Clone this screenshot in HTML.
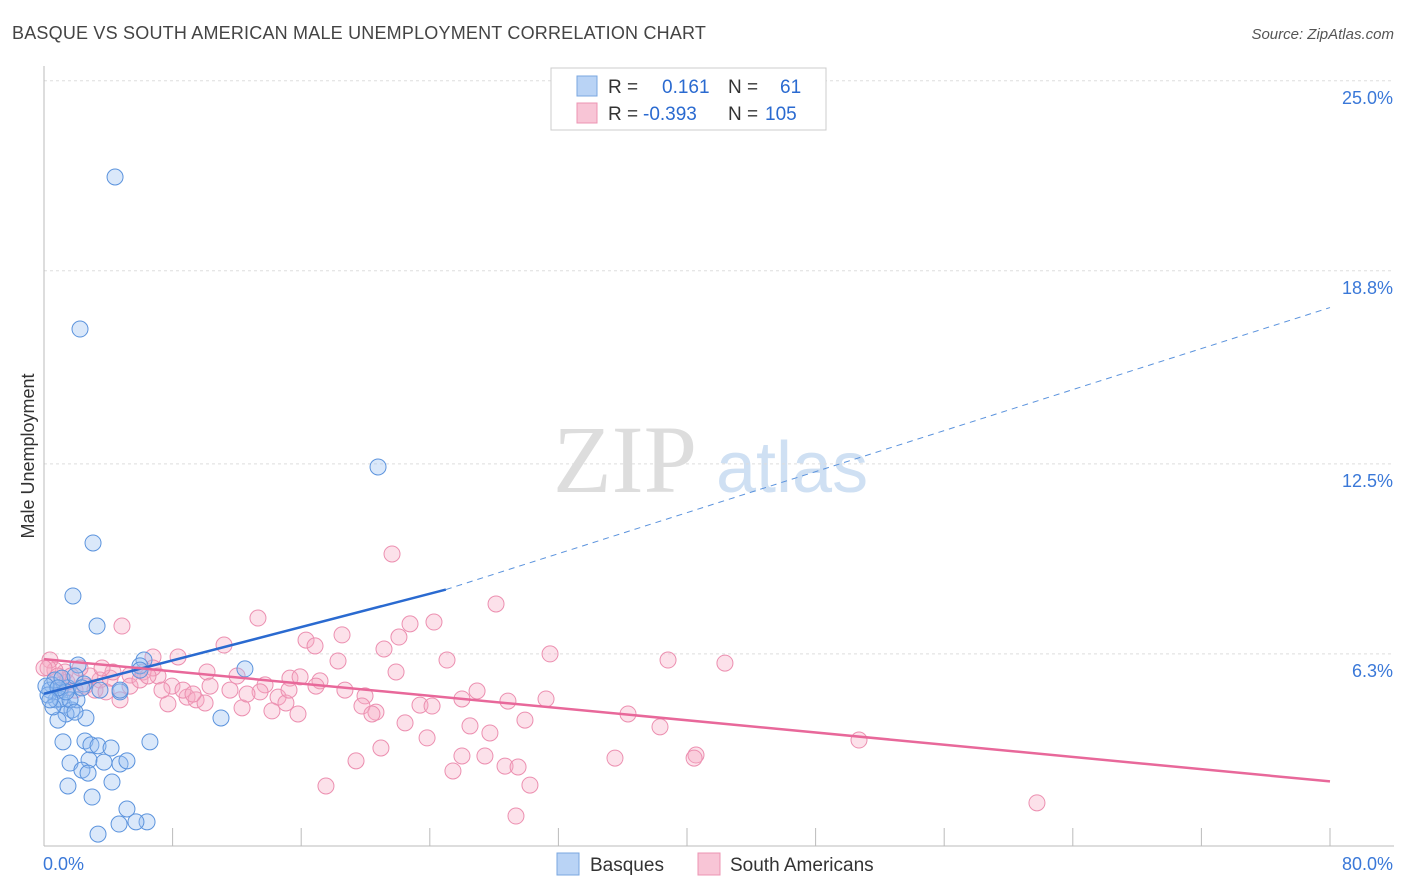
<!DOCTYPE html>
<html><head><meta charset="utf-8"><style>
body{margin:0;background:#fff;font-family:"Liberation Sans",sans-serif;}
#wrap{position:relative;width:1406px;height:892px;overflow:hidden;}
</style></head><body>
<div id="wrap">
<svg id="chart" width="1406" height="892">
<text x="12" y="39" font-size="18" fill="#444" letter-spacing="0.2">BASQUE VS SOUTH AMERICAN MALE UNEMPLOYMENT CORRELATION CHART</text>
<text x="1394" y="39" font-size="15" fill="#555" text-anchor="end" font-style="italic">Source: ZipAtlas.com</text>
<text x="34" y="456" font-size="18" fill="#333" text-anchor="middle" transform="rotate(-90 34 456)">Male Unemployment</text>
<text x="553" y="492" font-size="96" fill="#ddd" font-family="Liberation Serif,serif">ZIP</text>
<text x="716" y="492" font-size="72" fill="#cfe0f3">atlas</text>
<g id="grid"></g><g id="pts"></g><g id="lines"></g>
<g>
<rect x="551" y="68" width="275" height="62" fill="#fff" stroke="#ccc"/>
<rect x="577" y="76" width="20" height="20" fill="#b9d3f5" stroke="#7aa7e0"/>
<rect x="577" y="103" width="20" height="20" fill="#f8c5d6" stroke="#ec94b3"/>
<text x="608" y="93" font-size="19" fill="#333">R = <tspan fill="#2a6ad0" x="662">0.161</tspan><tspan fill="#333" x="728">N =</tspan><tspan fill="#2a6ad0" x="780">61</tspan></text>
<text x="608" y="120" font-size="19" fill="#333">R = <tspan fill="#2a6ad0" x="643">-0.393</tspan><tspan fill="#333" x="728">N =</tspan><tspan fill="#2a6ad0" x="765">105</tspan></text>
</g>
<g>
<rect x="557" y="853" width="22" height="22" fill="#b9d3f5" stroke="#7aa7e0"/>
<text x="590" y="871" font-size="19" fill="#333">Basques</text>
<rect x="698" y="853" width="22" height="22" fill="#f8c5d6" stroke="#ec94b3"/>
<text x="730" y="871" font-size="19" fill="#333">South Americans</text>
</g>
</svg></div>
<script>
const yTicks=[25.0,18.8,12.5,6.3];
const yTickLabels=["25.0%","18.8%","12.5%","6.3%"];
const xTickLabels=["0.0%","80.0%"];
const basquePx=[[115,177],[80,329],[378,467],[93,543],[73,596],[97,626],[144,660],[78,665],[140,666],[245,669],[120,692],[52,685],[60,690],[68,688],[56,700],[64,705],[72,710],[86,718],[66,714],[221,718],[63,742],[85,741],[150,742],[91,745],[98,746],[111,748],[70,763],[89,760],[104,762],[120,764],[127,761],[82,770],[88,773],[112,782],[68,786],[92,797],[127,809],[147,822],[136,822],[119,824],[98,834],[50,690],[55,680],[48,695],[62,678],[75,676],[58,720],[77,700],[60,699],[100,690],[46,686],[53,707],[70,700],[84,684],[66,692],[58,688],[75,712],[50,700],[120,690],[140,670],[82,688]];
const southPx=[[392,554],[496,604],[258,618],[122,626],[434,622],[410,624],[342,635],[224,645],[399,637],[306,640],[178,657],[550,654],[668,660],[725,663],[447,660],[153,657],[338,661],[315,646],[384,649],[396,672],[207,672],[237,676],[290,678],[300,677],[320,681],[316,686],[265,685],[210,686],[172,686],[230,690],[260,692],[345,690],[365,696],[278,697],[286,703],[187,697],[196,700],[205,703],[168,704],[242,708],[272,711],[298,714],[362,706],[420,705],[376,712],[477,691],[462,699],[508,701],[546,699],[372,714],[405,723],[432,706],[525,720],[628,714],[470,726],[490,733],[660,727],[859,740],[427,738],[381,748],[462,756],[485,756],[505,766],[518,767],[615,758],[696,755],[694,758],[356,761],[453,771],[530,785],[326,786],[516,816],[1037,803],[100,680],[90,676],[80,668],[65,672],[55,670],[60,690],[110,678],[130,675],[143,672],[158,676],[113,672],[50,660],[48,668],[75,690],[130,686],[85,686],[95,690],[106,692],[120,700],[140,680],[153,668],[162,690],[67,682],[71,676],[183,690],[193,694],[247,694],[289,690],[44,668],[58,676],[102,668],[148,676]];
const basqueX=basquePx.map(p=>+((p[0]-44)/16.075).toFixed(2));
const basqueY=basquePx.map(p=>+((847-p[1])/30.65).toFixed(2));
const southX=southPx.map(p=>+((p[0]-44)/16.075).toFixed(2));
const southY=southPx.map(p=>+((847-p[1])/30.65).toFixed(2));
const blueFit=[5.0,0.0,25,8.4,80,17.6];
const pinkFit=[6.13,0,80,2.14];
const X=v=>44+v*16.075, Y=v=>847-v*30.65;
const NS="http://www.w3.org/2000/svg";
function mk(tag,attrs,parent){const e=document.createElementNS(NS,tag);for(const k in attrs)e.setAttribute(k,attrs[k]);document.getElementById(parent).appendChild(e);return e;}
yTicks.forEach((t,i)=>{
 const l=mk('line',{x1:44,x2:1394,y1:Y(t),y2:Y(t),stroke:'#ddd','stroke-dasharray':'3,3'},'grid');
 
 
 const tx=mk('text',{x:1393,y:Y(t)+23,'font-size':18,fill:'#3a78d8','text-anchor':'end'},'grid');tx.textContent=yTickLabels[i];
 
 
});
let a=mk('line',{x1:44,x2:44,y1:66,y2:846,stroke:'#bbb'},'grid');


a=mk('line',{x1:44,x2:1394,y1:846,y2:846,stroke:'#bbb'},'grid');


for(let i=1;i<=10;i++){const t=mk('line',{x1:X(i*8),x2:X(i*8),y1:828,y2:846,stroke:'#bbb'},'grid');
 
 }
[[X(0)-1,'start'],[1393,'end']].forEach((p,i)=>{const t=mk('text',{x:p[0],y:870,'font-size':18,fill:'#3a78d8','text-anchor':p[1]},'grid');t.textContent=xTickLabels[i];
 
 });
southX.forEach((x,i)=>{const c=mk('circle',{cx:X(x),cy:Y(southY[i]),r:8,fill:'rgba(246,170,196,0.35)',stroke:'#ec8fb0','stroke-width':1},'pts');
 
 });
basqueX.forEach((x,i)=>{const c=mk('circle',{cx:X(x),cy:Y(basqueY[i]),r:8,fill:'rgba(150,190,240,0.35)',stroke:'#5b93dd','stroke-width':1},'pts');
 
 });
let ln=mk('line',{x1:X(blueFit[1]),y1:Y(blueFit[0]),x2:X(blueFit[2]),y2:Y(blueFit[3]),stroke:'#2a6ad0','stroke-width':2.5},'lines');


ln=mk('line',{x1:X(blueFit[2]),y1:Y(blueFit[3]),x2:X(blueFit[4]),y2:Y(blueFit[5]),stroke:'#5b93dd','stroke-width':1,'stroke-dasharray':'6,5'},'lines');


ln=mk('line',{x1:X(pinkFit[1]),y1:Y(pinkFit[0]),x2:X(pinkFit[2]),y2:Y(pinkFit[3]),stroke:'#e8689a','stroke-width':2.5},'lines');


</script></body></html>
